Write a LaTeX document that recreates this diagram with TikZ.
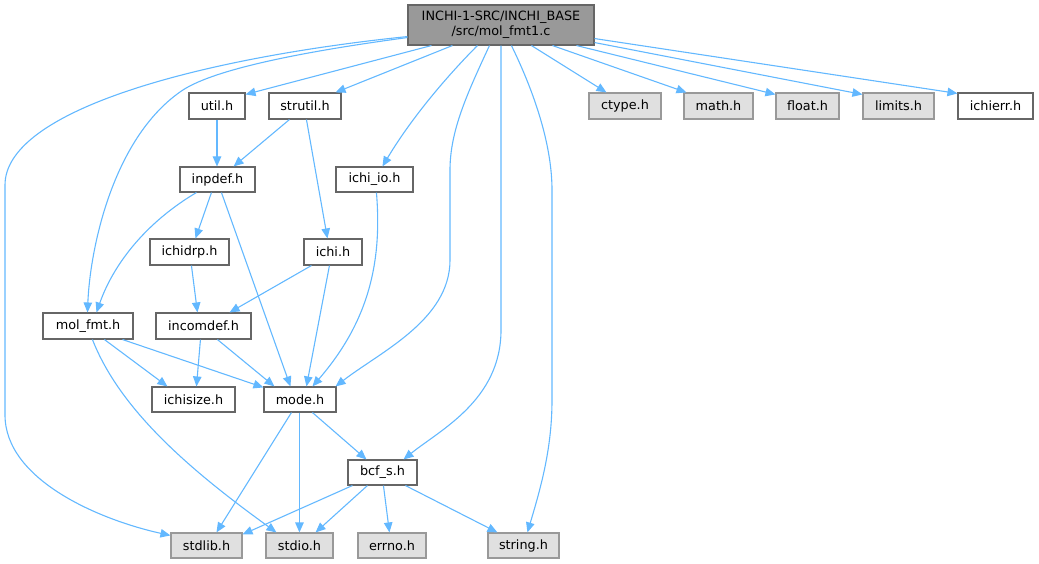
\documentclass[tikz,border=0pt]{standalone}
\usepackage{fontspec}
\setmainfont{DejaVu Sans}
\usetikzlibrary{arrows.meta}
\definecolor{edgeblue}{HTML}{63B8FF}
\definecolor{maingray}{HTML}{999999}
\definecolor{darkborder}{HTML}{666666}
\definecolor{sysfill}{HTML}{E0E0E0}
\definecolor{sysborder}{HTML}{999999}
\tikzset{
  filebox/.style={draw=darkborder, fill=white, line width=1.1pt, inner sep=0pt,
    font=\fontsize{12.8}{15}\selectfont, text=black, anchor=center},
  sysbox/.style={filebox, draw=sysborder, fill=sysfill},
  mainbox/.style={filebox, fill=maingray, align=center},
  dep/.style={draw=edgeblue, line width=1.1pt, -{Triangle[length=10pt,width=8.5pt]}},
}
\begin{document}
\begin{tikzpicture}[x=1pt,y=-1pt]
\useasboundingbox (0,0) rectangle (1039,564);
% nodes (centers and sizes in pixels)
\node[mainbox, minimum width=186pt, minimum height=40pt] (main) at (501,25) {INCHI-1-SRC/INCHI\_BASE\\/src/mol\_fmt1.c};
\node[filebox, minimum width=56pt, minimum height=26pt] (util) at (217,106) {util.h};
\node[filebox, minimum width=72pt, minimum height=26pt] (strutil) at (305,106) {strutil.h};
\node[sysbox, minimum width=72pt, minimum height=26pt] (ctype) at (625,106) {ctype.h};
\node[sysbox, minimum width=69pt, minimum height=26pt] (math) at (718.5,106) {math.h};
\node[sysbox, minimum width=63pt, minimum height=26pt] (float) at (807.5,106) {float.h};
\node[sysbox, minimum width=71pt, minimum height=26pt] (limits) at (898.5,106) {limits.h};
\node[filebox, minimum width=75pt, minimum height=26pt] (ichierr) at (995.5,106) {ichierr.h};
\node[filebox, minimum width=75pt, minimum height=25pt] (inpdef) at (217.5,179.5) {inpdef.h};
\node[filebox, minimum width=77pt, minimum height=25pt] (ichiio) at (374.5,179.5) {ichi\_io.h};
\node[filebox, minimum width=79pt, minimum height=26pt] (ichidrp) at (189.5,252) {ichidrp.h};
\node[filebox, minimum width=58pt, minimum height=26pt] (ichi) at (333,252) {ichi.h};
\node[filebox, minimum width=90pt, minimum height=26pt] (molfmt) at (88,326) {mol\_fmt.h};
\node[filebox, minimum width=95pt, minimum height=26pt] (incomdef) at (203.5,326) {incomdef.h};
\node[filebox, minimum width=83pt, minimum height=25pt] (ichisize) at (193.5,399.5) {ichisize.h};
\node[filebox, minimum width=72pt, minimum height=25pt] (mode) at (300,399.5) {mode.h};
\node[filebox, minimum width=69pt, minimum height=25pt] (bcfs) at (382.5,472.5) {bcf\_s.h};
\node[sysbox, minimum width=71pt, minimum height=25pt] (stdlib) at (206.5,545.5) {stdlib.h};
\node[sysbox, minimum width=67pt, minimum height=25pt] (stdio) at (299.5,545.5) {stdio.h};
\node[sysbox, minimum width=68pt, minimum height=25pt] (errno) at (392,545.5) {errno.h};
\node[sysbox, minimum width=71pt, minimum height=25pt] (string) at (523.5,545.5) {string.h};
% edges from main
\draw[dep] ([xshift=24pt]main.south west) -- ([yshift=-2pt]util.north east);
\draw[dep] ([xshift=45pt]main.south west) -- ([xshift=-6pt]strutil.north east);
\draw[dep] ([xshift=70pt]main.south west) .. controls (455,68) and (415,112) .. ([xshift=47pt]ichiio.north west);
\draw[dep] ([xshift=82pt]main.south west) .. controls (468,92) and (450,130) .. (450,170) -- (450,260) .. controls (450,320) and (380,352) .. ([xshift=-1pt]mode.north east);
\draw[dep] (main.south) -- (501,330) .. controls (501,400) and (440,430) .. ([xshift=-14pt]bcfs.north east);
\draw[dep] ([xshift=104pt]main.south west) .. controls (538,100) and (552,150) .. (552,190) -- (552,400) .. controls (552,450) and (540,490) .. ([xshift=40pt]string.north west);
\draw[dep] ([xshift=124pt]main.south west) -- ([xshift=18pt]ctype.north west);
\draw[dep] ([xshift=145pt]main.south west) -- ([xshift=3pt]math.north west);
\draw[dep] ([xshift=169pt]main.south west) -- ([yshift=-2pt]float.north west);
\draw[dep] ([yshift=3pt]main.south east) -- ([yshift=-2pt]limits.north west);
\draw[dep] ([yshift=7pt]main.south east) -- ([yshift=-1pt]ichierr.north west);
\draw[dep] ([yshift=8pt]main.south west) .. controls (300,52) and (210,70) .. (180,92) .. controls (112,140) and (90,250) .. ([xshift=45pt]molfmt.north west);
\draw[dep] ([yshift=9pt]main.south west) .. controls (200,58) and (5,110) .. (5,185) -- (5,415) .. controls (5,480) and (100,520) .. ([yshift=-3pt]stdlib.north west);
% other edges
\draw[dep] (util.south) -- (util.south |- inpdef.north);
\draw[dep] ([xshift=21pt]strutil.south west) -- ([xshift=-22pt]inpdef.north east);
\draw[dep] ([xshift=38pt]strutil.south west) -- ([xshift=24pt]ichi.north west);
\draw[dep] ([xshift=32pt]inpdef.south west) -- ([xshift=46pt]ichidrp.north west);
\draw[dep] ([xshift=17pt]inpdef.south west) .. controls (150,220) and (115,260) .. ([xshift=54pt]molfmt.north west);
\draw[dep] ([xshift=42pt]inpdef.south west) -- ([xshift=27pt]mode.north west);
\draw[dep] ([xshift=42pt]ichidrp.south west) -- ([xshift=42pt]incomdef.north west);
\draw[dep] ([xshift=8pt]ichi.south west) -- ([xshift=-22pt]incomdef.north east);
\draw[dep] ([xshift=26pt]ichi.south west) -- ([xshift=43pt]mode.north west);
\draw[dep] ([xshift=41pt]ichiio.south west) .. controls (382,260) and (370,320) .. ([xshift=49pt]mode.north west);
\draw[dep] ([xshift=62pt]molfmt.south west) -- ([xshift=16pt]ichisize.north west);
\draw[dep] ([xshift=-11pt]molfmt.south east) -- ([yshift=-1pt]mode.north west);
\draw[dep] ([xshift=50pt]molfmt.south west) .. controls (120,410) and (190,470) .. ([xshift=11pt]stdio.north west);
\draw[dep] ([xshift=45pt]incomdef.south west) -- ([xshift=45pt]ichisize.north west);
\draw[dep] ([xshift=62pt]incomdef.south west) -- ([xshift=11pt]mode.north west);
\draw[dep] ([xshift=28pt]mode.south west) -- ([xshift=46pt]stdlib.north west);
\draw[dep] ([xshift=36pt]mode.south west) -- ([xshift=34pt]stdio.north west);
\draw[dep] ([xshift=49pt]mode.south west) -- ([xshift=19pt]bcfs.north west);
\draw[dep] ([xshift=5pt]bcfs.south west) -- ([yshift=-2pt]stdlib.north east);
\draw[dep] ([xshift=20pt]bcfs.south west) -- ([xshift=-18pt]stdio.north east);
\draw[dep] ([xshift=36pt]bcfs.south west) -- ([xshift=32pt]errno.north west);
\draw[dep] ([xshift=58pt]bcfs.south west) -- ([xshift=10pt]string.north west);
\end{tikzpicture}
\end{document}
